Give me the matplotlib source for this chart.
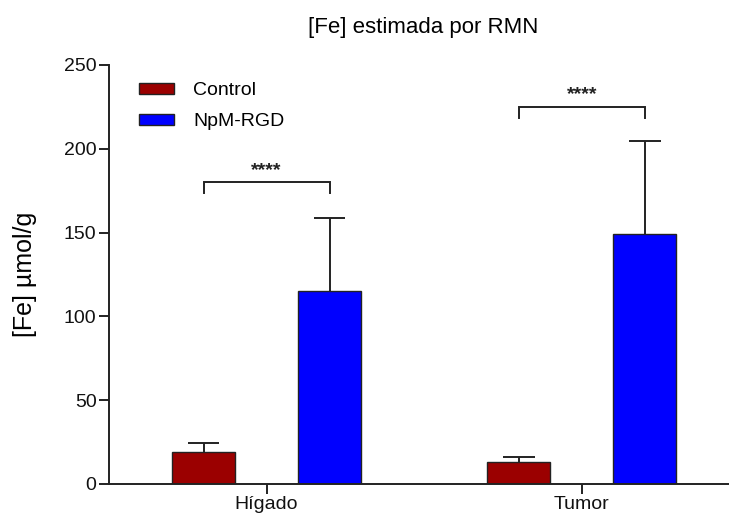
import matplotlib
matplotlib.use("Agg")
import numpy as np
import matplotlib.pyplot as plt

plt.rcParams["font.family"] = ["Liberation Sans", "DejaVu Sans"]

# data
groups = ["Hígado", "Tumor"]
series = ["Control", "NpM-RGD"]
control_mean = [19.1, 13.1]
control_err = [5.4, 3.0]
npm_mean = [115.2, 149.2]
npm_err = [43.5, 55.5]
colors = ["#9B0000", "#0000FF"]
sig_labels = ["****", "****"]
sig_heights = [180, 225]
yticks = [0, 50, 100, 150, 200, 250]

fig = plt.figure(figsize=(7.29, 5.15), dpi=100)
ax = fig.add_axes([0.1495, 0.0602, 0.8505, 0.8136])

x = np.arange(len(groups))
w = 0.2
off = 0.2
cap = 0.05
line_c = "#222222"

for pos, means, errs, col, lab in [(x - off, control_mean, control_err, colors[0], series[0]),
                                   (x + off, npm_mean, npm_err, colors[1], series[1])]:
    means = np.array(means)
    tops = means + np.array(errs)
    ax.bar(pos, means, w, color=col, edgecolor=line_c, linewidth=1.0,
           label=lab, zorder=2)
    # upward-only error bars
    ax.vlines(pos, means, tops, color=line_c, linewidth=1.4, zorder=1)
    ax.hlines(tops, pos - cap, pos + cap, color=line_c, linewidth=1.4, zorder=1)

# significance brackets
for i in range(len(groups)):
    h = sig_heights[i]
    x1, x2 = x[i] - off, x[i] + off
    ax.plot([x1, x1, x2, x2], [h - 6.5, h, h, h - 6.5], color=line_c,
            linewidth=1.4, solid_joinstyle="miter")
    ax.text(x[i], h + 2, sig_labels[i], ha="center", va="bottom",
            fontsize=14, fontweight="bold", color="#222222")

ax.set_xlim(-0.5, 1.467)
ax.set_ylim(0, 250)
ax.set_yticks(yticks)
ax.set_xticks(x)
ax.set_xticklabels(groups)
ax.tick_params(axis="both", direction="out", length=7, width=1.4,
               color=line_c, labelsize=14, labelcolor="#111111", pad=2)
for s in ["top", "right"]:
    ax.spines[s].set_visible(False)
for s in ["left", "bottom"]:
    ax.spines[s].set_linewidth(1.4)
    ax.spines[s].set_color(line_c)

ax.set_ylabel("[Fe] µmol/g", fontsize=18, labelpad=19)
fig.text(0.580, 0.946, "[Fe] estimada por RMN", ha="center", va="center",
         fontsize=16)

leg = ax.legend(loc="upper left", bbox_to_anchor=(0.02, 1.0), frameon=False,
                fontsize=14, handlelength=1.8, handleheight=0.5,
                handletextpad=1.0, labelspacing=0.7)

fig.savefig("out.png", dpi=100)
